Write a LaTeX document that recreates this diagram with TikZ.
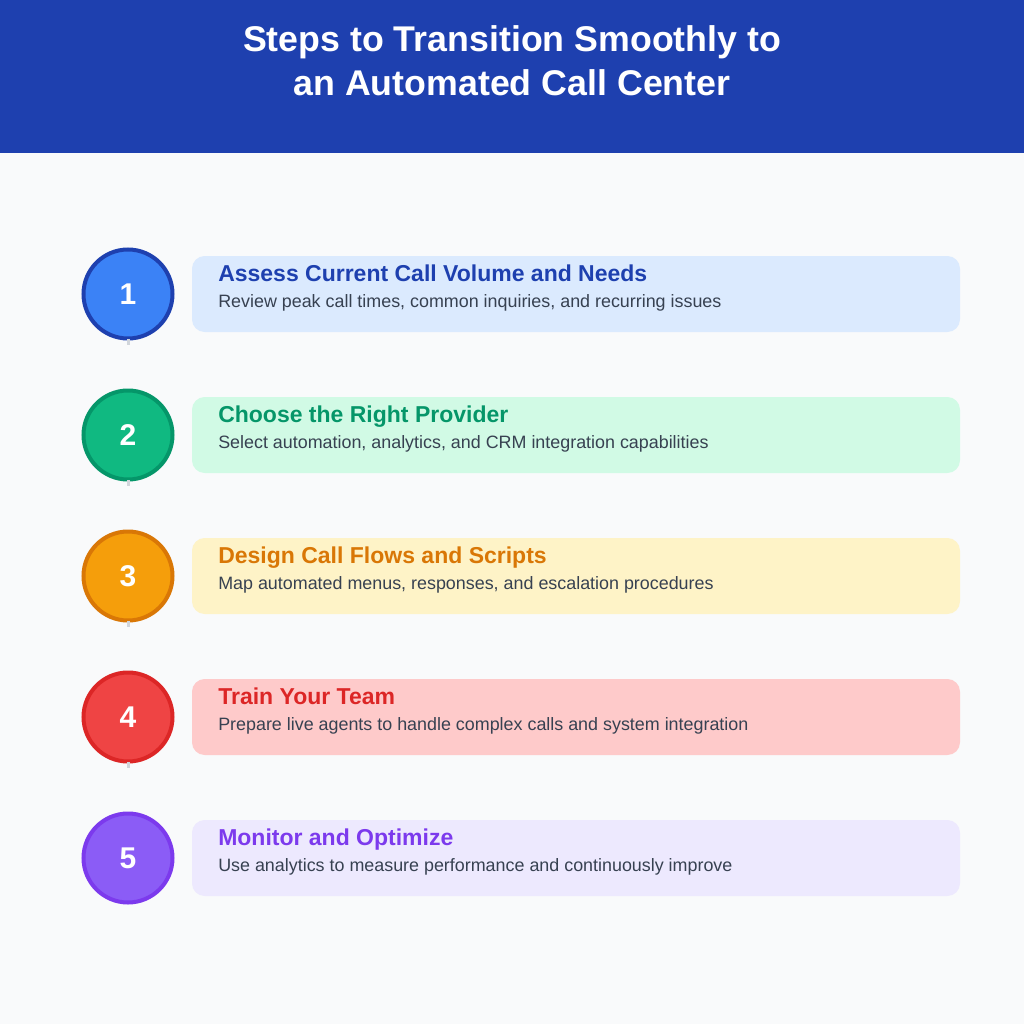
\documentclass[tikz,border=0pt]{standalone}
\usepackage{fontspec}
\setmainfont{Liberation Sans}
\definecolor{hdr}{HTML}{1E40AF}
\definecolor{pagebg}{HTML}{F9FAFB}
\definecolor{tick}{HTML}{D1D5DB}
\definecolor{body}{HTML}{374151}
\definecolor{boxa}{HTML}{DBEAFE}\definecolor{fila}{HTML}{3B82F6}\definecolor{stra}{HTML}{1E40AF}
\definecolor{boxb}{HTML}{D1FAE5}\definecolor{filb}{HTML}{10B981}\definecolor{strb}{HTML}{059669}
\definecolor{boxc}{HTML}{FEF3C7}\definecolor{filc}{HTML}{F59E0B}\definecolor{strc}{HTML}{D97706}
\definecolor{boxd}{HTML}{FECACA}\definecolor{fild}{HTML}{EF4444}\definecolor{strd}{HTML}{DC2626}
\definecolor{boxe}{HTML}{EDE9FE}\definecolor{file}{HTML}{8B5CF6}\definecolor{stre}{HTML}{7C3AED}
\tikzset{
  px/.style={x=0.75pt,y=-0.75pt},
  titletext/.style={anchor=base,inner sep=0pt,text=white,font=\fontsize{26.8pt}{30pt}\selectfont\bfseries},
  stepcircle/.style={circle,minimum size=66.75pt,inner sep=0pt,line width=3pt},
  numtext/.style={anchor=base,inner sep=0pt,text=white,font=\fontsize{22.5pt}{26pt}\selectfont\bfseries},
  stepcard/.style={rounded corners=9.5pt,draw=none},
  headtext/.style={anchor=base west,inner sep=0pt,font=\fontsize{17.25pt}{20pt}\selectfont\bfseries},
  subtext/.style={anchor=base west,inner sep=0pt,text=body,font=\fontsize{13.42pt}{16pt}\selectfont},
  ticklink/.style={draw=tick,line width=2.25pt}
}
\newcommand{\stepitem}[7]{% y, box, fill, stroke, num, head, sub
  \fill[stepcard,fill=#2] (192,#1-38) rectangle (960,#1+38);
  \node[stepcircle,fill=#3,draw=#4] (c#5) at (128,#1) {};
  \node[numtext] (n#5) at (128,#1+10.5) {#5};
  \node[headtext,text=#4] (h#5) at (218,#1-12.6) {#6};
  \node[subtext] (s#5) at (218,#1+13) {#7};
}
\newcommand{\steptick}[2]{%
  \coordinate (e#1) at (128,#2+51);
  \draw[ticklink] ([yshift=1pt]c#1.south) -- (e#1);
}
\begin{document}
\begin{tikzpicture}[px]
\useasboundingbox (0,0) rectangle (1024,1024);
\fill[pagebg] (0,0) rectangle (1024,1024);
\fill[hdr] (0,0) rectangle (1024,153);
\node[titletext] (t1) at (512,51.7) {Steps to Transition Smoothly to};
\node[titletext] (t2) at (512,95.8) {an Automated Call Center};
\stepitem{294}{boxa}{fila}{stra}{1}{Assess Current Call Volume and Needs}{Review peak call times, common inquiries, and recurring issues}
\stepitem{435}{boxb}{filb}{strb}{2}{Choose the Right Provider}{Select automation, analytics, and CRM integration capabilities}
\stepitem{576}{boxc}{filc}{strc}{3}{Design Call Flows and Scripts}{Map automated menus, responses, and escalation procedures}
\stepitem{717}{boxd}{fild}{strd}{4}{Train Your Team}{Prepare live agents to handle complex calls and system integration}
\stepitem{858}{boxe}{file}{stre}{5}{Monitor and Optimize}{Use analytics to measure performance and continuously improve}
\steptick{1}{294}
\steptick{2}{435}
\steptick{3}{576}
\steptick{4}{717}
\end{tikzpicture}
\end{document}
